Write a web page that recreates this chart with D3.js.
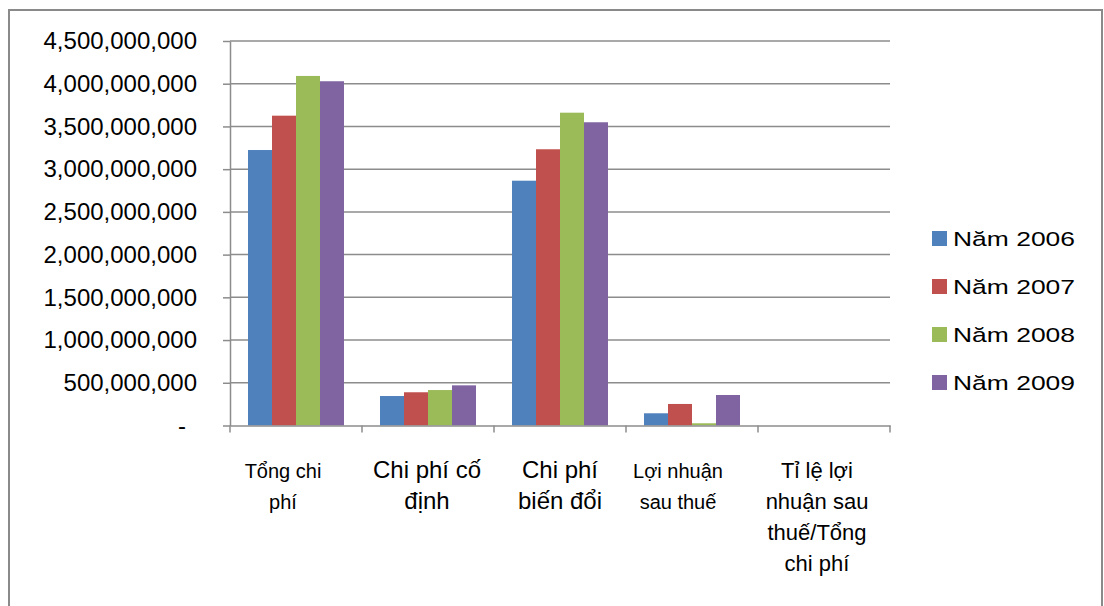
<!DOCTYPE html>
<html>
<head>
<meta charset="utf-8">
<script src="https://cdn.jsdelivr.net/npm/d3@7"></script>
<style>
  html, body { margin: 0; padding: 0; background: #fff; }
  svg { display: block; }
  text { font-family: "Liberation Sans", Arial, sans-serif; fill: #000; }
</style>
</head>
<body>
<svg id="chart" width="1104" height="606"></svg>
<script>
// Cost and profit figures by year (VND)
const categories = [
  "Tổng chi phí",
  "Chi phí cố định",
  "Chi phí biến đổi",
  "Lợi nhuận sau thuế",
  "Tỉ lệ lợi nhuận sau thuế/Tổng chi phí"
];
// Wrapped lines of each category label
const categoryLines = [
  ["Tổng chi", "phí"],
  ["Chi phí cố", "định"],
  ["Chi phí", "biến đổi"],
  ["Lợi nhuận", "sau thuế"],
  ["Tỉ lệ lợi", "nhuận sau", "thuế/Tổng", "chi phí"]
];
const seriesNames = ["Năm 2006", "Năm 2007", "Năm 2008", "Năm 2009"];
const values2006 = [3224000000, 345000000, 2865000000, 143000000, 0.044];
const values2007 = [3626000000, 389000000, 3233000000, 252000000, 0.070];
const values2008 = [4091000000, 415000000, 3661000000, 26000000, 0.006];
const values2009 = [4029000000, 470000000, 3549000000, 357000000, 0.089];
const yTicks = [0, 500000000, 1000000000, 1500000000, 2000000000,
                2500000000, 3000000000, 3500000000, 4000000000, 4500000000];

const seriesValues = [values2006, values2007, values2008, values2009];
const colors = ["#4F81BD", "#C0504D", "#9BBB59", "#8064A2"];

const svg = d3.select("#chart");
const plot = { left: 230, right: 890, top: 41, bottom: 425.5 };
const gridColor = "#8c8c8c";

// Outer chart frame
svg.append("rect")
  .attr("x", 9).attr("y", 10)
  .attr("width", 1093).attr("height", 610)
  .attr("fill", "#fff")
  .attr("stroke", "#8a8a8a")
  .attr("stroke-width", 2);

const x = d3.scaleBand()
  .domain(categories)
  .range([plot.left, plot.right])
  .paddingInner(0).paddingOuter(0);

// 150% gap between groups of four bars
const gapRatio = 1.5;
const bw = x.bandwidth();
const barW = bw / (seriesNames.length + gapRatio);
const x1 = d3.scaleBand()
  .domain(seriesNames)
  .range([barW * gapRatio / 2, bw - barW * gapRatio / 2])
  .padding(0);

const y = d3.scaleLinear()
  .domain([0, 4500000000])
  .range([plot.bottom, plot.top]);

// Horizontal gridlines
svg.append("g")
  .selectAll("line")
  .data(yTicks.filter(d => d > 0))
  .join("line")
  .attr("x1", plot.left).attr("x2", plot.right)
  .attr("y1", d => y(d)).attr("y2", d => y(d))
  .attr("stroke", gridColor)
  .attr("stroke-width", 1.5);

// Bars
const groups = svg.append("g")
  .selectAll("g")
  .data(categories)
  .join("g")
  .attr("transform", d => `translate(${x(d)},0)`);

groups.selectAll("rect")
  .data((c, i) => seriesNames.map((s, k) => ({ s, v: seriesValues[k][i], k })))
  .join("rect")
  .attr("x", d => x1(d.s))
  .attr("width", x1.bandwidth())
  .attr("y", d => y(d.v))
  .attr("height", d => y(0) - y(d.v))
  .attr("fill", d => colors[d.k]);

// Y axis
const fmt = d3.format(",");
const yAxis = svg.append("g")
  .attr("transform", `translate(${plot.left},0)`)
  .call(d3.axisLeft(y)
    .tickValues(yTicks)
    .tickSize(7)
    .tickSizeOuter(0)
    .tickPadding(26)
    .tickFormat(d => d === 0 ? "-" : fmt(d)));
yAxis.select(".domain").attr("stroke", gridColor).attr("stroke-width", 1.5);
yAxis.selectAll(".tick line").attr("stroke", gridColor).attr("stroke-width", 1.5);
yAxis.selectAll(".tick text")
  .attr("font-size", 24)
  .attr("font-family", "'Liberation Sans', Arial, sans-serif")
  .attr("fill", "#000")
  .attr("dx", d => d === 0 ? -11 : 0);

// X axis
const xAxis = svg.append("g")
  .attr("transform", `translate(0,${plot.bottom})`)
  .call(d3.axisBottom(x).tickSize(0).tickFormat(""));
xAxis.select(".domain").attr("stroke", gridColor).attr("stroke-width", 1.5);
xAxis.selectAll(".tick").remove();

// Category separators on the x axis
const bounds = categories.map(c => x(c)).concat([x(categories[categories.length - 1]) + bw]);
xAxis.selectAll("line.sep")
  .data(bounds)
  .join("line")
  .attr("class", "sep")
  .attr("x1", d => d).attr("x2", d => d)
  .attr("y1", 0).attr("y2", 7)
  .attr("stroke", gridColor)
  .attr("stroke-width", 1.5);

// Category labels
const labelSizes = [20, 24, 24, 20, 22];
const labelShift = [-13, -1, 0, -14, -7];
const labels = svg.append("g")
  .selectAll("text")
  .data(categories)
  .join("text")
  .attr("text-anchor", "middle")
  .attr("font-size", (d, i) => labelSizes[i])
  .attr("transform", (d, i) => `translate(${x(d) + bw / 2 + labelShift[i]},${plot.bottom + 52})`);
labels.selectAll("tspan")
  .data((d, i) => categoryLines[i])
  .join("tspan")
  .attr("x", 0)
  .attr("dy", (d, j) => j === 0 ? 0 : 31)
  .text(d => d);

// Legend
const legend = svg.append("g")
  .selectAll("g")
  .data(seriesNames)
  .join("g")
  .attr("transform", (d, i) => `translate(932,${231 + i * 48})`);
legend.append("rect")
  .attr("width", 15).attr("height", 15)
  .attr("fill", (d, i) => colors[i]);
legend.append("text")
  .attr("x", 21).attr("y", 15)
  .attr("font-size", 21)
  .attr("textLength", 122)
  .attr("lengthAdjust", "spacingAndGlyphs")
  .text(d => d);
</script>
</body>
</html>
